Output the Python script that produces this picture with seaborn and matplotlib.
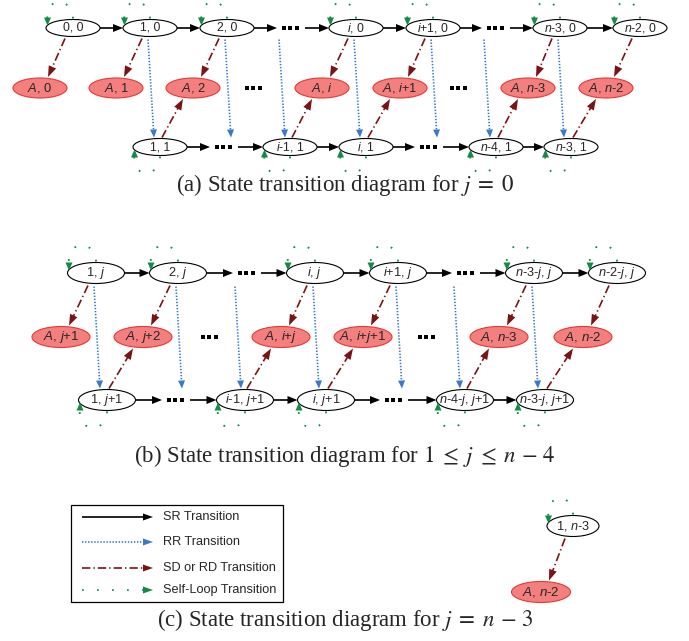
"""
State transition diagrams for the j = 0, 1 <= j <= n-4 and j = n-3 cases.
"""
import matplotlib
matplotlib.use("Agg")
import matplotlib.pyplot as plt
from matplotlib.patches import Ellipse, Rectangle, Polygon, PathPatch
from matplotlib.path import Path
import numpy as np
import pandas as pd
import seaborn as sns

# ---- data: state labels per row (None = ellipsis gap) ----
a_top = ["0, 0", "1, 0", "2, 0", None, "$i$, 0", "$i$+1, 0", None, "$n$-3, 0", "$n$-2, 0"]
a_abs = ["$A$, 0", "$A$, 1", "$A$, 2", None, "$A$, $i$", "$A$, $i$+1", None, "$A$, $n$-3", "$A$, $n$-2"]
a_bot = ["1, 1", None, "$i$-1, 1", "$i$, 1", None, "$n$-4, 1", "$n$-3, 1"]
a_rr = [(1, 0), (2, 1), (3, 2), (4, 3), (5, 4), (6, 5), (7, 6)]   # top slot -> bottom slot
a_up = [(0, 2), (2, 4), (3, 5), (5, 7), (6, 8)]                   # bottom slot -> absorbing slot

b_top = ["1, $j$", "2, $j$", None, "$i$, $j$", "$i$+1, $j$", None, "$n$-3-$j$, $j$", "$n$-2-$j$, $j$"]
b_abs = ["$A$, $j$+1", "$A$, $j$+2", None, "$A$, $i$+$j$", "$A$, $i$+$j$+1", None, "$A$, $n$-3", "$A$, $n$-2"]
b_bot = ["1, $j$+1", None, "$i$-1, $j$+1", "$i$, $j$+1", None, "$n$-4-$j$, $j$+1", "$n$-3-$j$, $j$+1"]
b_rr = [(0, 0), (1, 1), (2, 2), (3, 3), (4, 4), (5, 5), (6, 6)]
b_up = [(0, 1), (2, 3), (3, 4), (5, 6), (6, 7)]

c_top = ["1, $n$-3"]
c_abs = ["$A$, $n$-2"]

legend_labels = ["SR Transition", "RR Transition", "SD or RD Transition", "Self-Loop Transition"]
captions = [r"(a) State transition diagram for $j\;=\;0$",
            r"(b) State transition diagram for $1\;\leq\;j\;\leq\;n\,-\,4$",
            r"(c) State transition diagram for $j\;=\;n\,-\,3$"]

# ---- layout (pixel grid of the figure) ----
a_x = dict(top=[73, 150, 227, 290, 356, 433, 495, 560, 640],
           abs=[40, 116, 193, 253, 322, 400, 458, 528, 606],
           bot=[160, 223, 290, 366, 428, 496, 571])
a_y = dict(top=28, abs=88, bot=147)
b_x = dict(top=[96, 178, 246, 315, 398, 465, 534, 617],
           abs=[61, 143, 209, 281, 363, 426, 499, 583],
           bot=[107, 175, 245, 326, 393, 465, 545])
b_y = dict(top=273, abs=337, bot=400)
c_x = dict(top=[573], abs=[541])
c_y = dict(top=526, abs=592)
caption_y = [185, 456, 620]

SR_C = "black"
RR_C = "#3a78c9"
SD_C = "#7a1315"
SL_C = "#138a48"
ABS_FC = "#f47f7f"
ABS_EC = "#e53935"

RR_LS = (0, (1.0, 1.2))
SD_LS = (0, (6.0, 2.2, 1.0, 2.2))
SL_LS = (0, (1.3, 9.5))

sns.set_theme(style="white")
plt.rcParams["font.family"] = ["Liberation Sans", "DejaVu Sans"]
plt.rcParams["mathtext.fontset"] = "custom"
plt.rcParams["mathtext.it"] = "Liberation Sans:italic"
plt.rcParams["mathtext.rm"] = "Liberation Sans"
plt.rcParams["lines.scale_dashes"] = False

fig = plt.figure(figsize=(6.89, 6.41), dpi=100)
ax = fig.add_axes([0, 0, 1, 1])


def head(tip, d, hl, hw, color):
    d = np.asarray(d, float)
    d = d / np.linalg.norm(d)
    n = np.array([-d[1], d[0]])
    tip = np.asarray(tip, float)
    base = tip - d * hl
    ax.add_patch(Polygon([tip, base + n * hw / 2, base - n * hw / 2],
                         closed=True, fc=color, ec="none", zorder=5))


def link(p0, p1, color, ls, lw=1.1, hl=10, hw=8):
    p0, p1 = np.asarray(p0, float), np.asarray(p1, float)
    d = (p1 - p0) / np.linalg.norm(p1 - p0)
    q = p1 - d * hl * 0.7
    ax.plot([p0[0], q[0]], [p0[1], q[1]], color=color, lw=lw, ls=ls,
            dash_capstyle="butt", solid_capstyle="butt", zorder=2)
    head(p1, d, hl, hw, color)


def state(x, y, label, w, h, fs, absorbing=False):
    fc, ec = (ABS_FC, ABS_EC) if absorbing else ("white", "black")
    ax.add_patch(Ellipse((x, y), w, h, fc=fc, ec=ec, lw=0.8, zorder=3))
    ax.text(x, y, label, ha="center", va="center", fontsize=fs, zorder=4)


def self_loop(x, y, w, h, below=False):
    s = 1 if below else -1
    edge = y + s * h / 2
    left = x - w / 2
    tip = (left + 1.5, y + s * 2.5)
    verts = [(x, edge + s * 1), (x, edge + s * 23), (left - 2, edge + s * 23),
             (tip[0], tip[1] + s * 6)]
    path = Path(verts, [Path.MOVETO, Path.CURVE4, Path.CURVE4, Path.CURVE4])
    ax.add_patch(PathPatch(path, fill=False, ec=SL_C, lw=1.3, ls=SL_LS, zorder=2))
    head(tip, (0, -s), 8, 7, SL_C)


dots = []


def diagram(top, absn, bot, rr, up, xs, ys, nw, nh, aw, ah, fs, afs):
    rows = [("top", top), ("abs", absn)] + ([("bot", bot)] if bot else [])
    for key, labels in rows:
        for k, lab in enumerate(labels):
            x, y = xs[key][k], ys[key]
            if lab is None:
                dots.extend([(x + dx, y) for dx in (-6.5, 0, 6.5)])
                continue
            if key == "abs":
                state(x, y, lab, aw, ah, afs, absorbing=True)
            else:
                state(x, y, lab, nw, nh, fs)
                self_loop(x, y, nw, nh, below=(key == "bot"))
    # SR transitions along the transient rows
    for key, labels in rows:
        if key == "abs":
            continue
        y = ys[key]
        for k in range(len(labels) - 1):
            x0 = xs[key][k] + (nw / 2 if labels[k] else 15)
            x1 = xs[key][k + 1] - (nw / 2 if labels[k + 1] else 13)
            link((x0, y), (x1, y), SR_C, "-", lw=1.2, hl=10, hw=8)
    # SD transitions down from the top row
    for k, lab in enumerate(top):
        if lab is None:
            continue
        link((xs["top"][k] - 8, ys["top"] + nh / 2 + 2),
             (xs["abs"][k] + 8, ys["abs"] - ah / 2 - 1), SD_C, SD_LS, lw=1.2, hl=11, hw=8)
    # RR transitions top -> bottom
    for kt, kb in rr:
        sx = xs["top"][kt] - (2 if top[kt] else 11)
        link((sx, ys["top"] + nh / 2 + 3), (sx + 6, ys["bot"] - nh / 2 - 1),
             RR_C, RR_LS, lw=1.2, hl=8, hw=7)
    # SD transitions up from the bottom row
    for kb, ka in up:
        link((xs["bot"][kb] + 2, ys["bot"] - nh / 2 - 1),
             (xs["abs"][ka] - 10, ys["abs"] + ah / 2 + 1), SD_C, SD_LS, lw=1.2, hl=11, hw=8)


diagram(a_top, a_abs, a_bot, a_rr, a_up, a_x, a_y, 54, 17, 54, 20, 8.8, 9.3)
diagram(b_top, b_abs, b_bot, b_rr, b_up, b_x, b_y, 57, 21, 58, 21, 9.2, 9.6)
diagram(c_top, c_abs, None, [], [], c_x, c_y, 52, 21, 59, 21, 9.2, 9.6)

# ellipsis gaps
dot_df = pd.DataFrame(dots, columns=["x", "y"])
sns.scatterplot(data=dot_df, x="x", y="y", marker="s", s=6, color="black",
                linewidth=0, legend=False, ax=ax, zorder=4)

# legend box
ax.add_patch(Rectangle((71, 505), 212, 97, fc="white", ec="black", lw=0.9, zorder=1))
leg_y = [517, 542, 568, 590]
leg_styles = [(SR_C, "-"), (RR_C, RR_LS), (SD_C, SD_LS), (SL_C, SL_LS)]
for yy, lab, (col, ls) in zip(leg_y, legend_labels, leg_styles):
    link((82, yy), (153, yy), col, ls, lw=1.2, hl=10, hw=7)
    ax.text(163, yy, lab, ha="left", va="center", fontsize=9.2)

for yy, cap in zip(caption_y, captions):
    ax.text(345, yy, cap, ha="center", va="center", fontsize=16.5,
            family="Liberation Serif", math_fontfamily="stix")

ax.set_xlim(0, 689)
ax.set_ylim(641, 0)
ax.axis("off")
fig.savefig("out.png", dpi=100)
